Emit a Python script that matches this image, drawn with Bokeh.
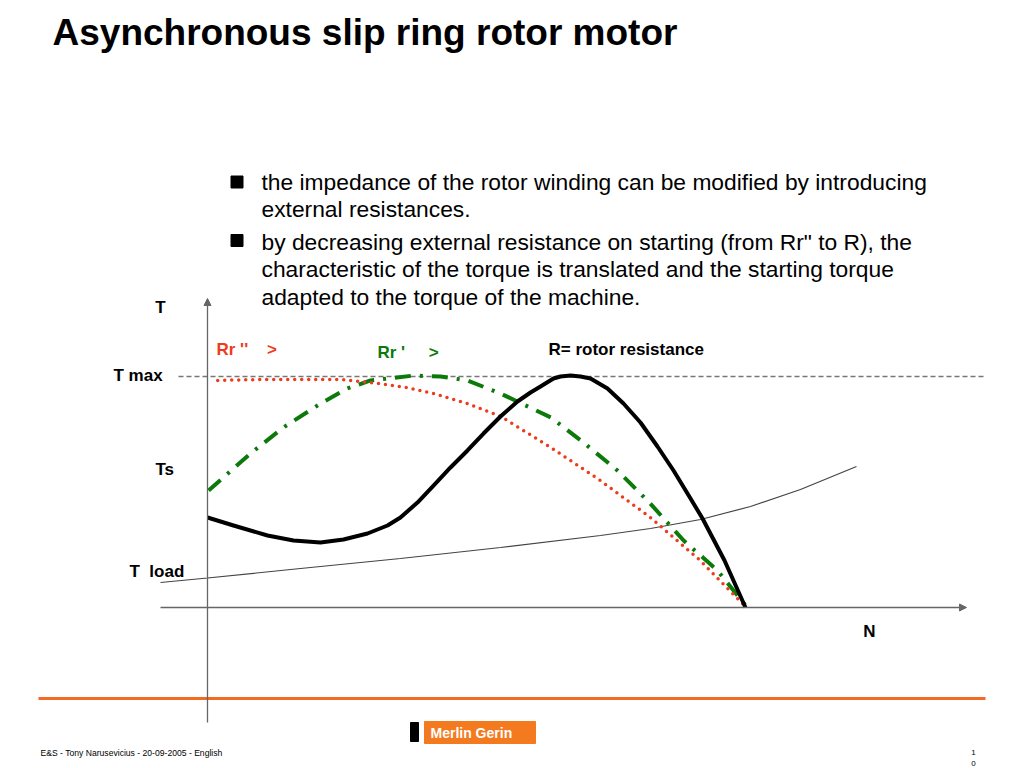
from bokeh.plotting import figure
from bokeh.models import Label, Arrow, NormalHead, Range1d
from bokeh.embed import file_html
from bokeh.resources import INLINE

# ---------------- data (N = speed in % of synchronous, T = torque in % of Tmax) ----------------
T_MAX = 100

# R = rotor resistance (solid black)
N_R = [0, 4.83, 11.15, 15.99, 21.0, 25.28, 29.74, 33.46, 35.87, 39.03, 42.01, 45.17,
       48.33, 51.3, 54.46, 57.62, 60.04, 61.9, 64.31, 65.61, 67.47, 69.33, 71.19,
       74.35, 77.32, 80.48, 83.64, 86.62, 89.78, 92.01, 96.1, 100]
T_R = [38.96, 35.5, 31.17, 29.0, 28.14, 29.44, 32.03, 35.5, 38.96, 45.45, 52.81, 60.61,
       67.97, 75.32, 82.68, 89.18, 93.07, 95.67, 99.13, 100.0, 100.43, 100.0, 99.13,
       94.81, 88.31, 80.09, 69.7, 59.31, 47.19, 38.53, 20.35, 0]

# Rr'' (red dotted)
N_RR2 = [1.9, 9.8, 17.3, 24.7, 31.6, 37.0, 42.0, 48.3, 54.5, 63.8, 73.0, 82.3, 91.6, 100]
T_RR2 = [98.3, 98.7, 98.7, 98.7, 97.0, 95.2, 92.6, 88.3, 82.7, 69.3, 55.0, 39.0, 20.3, 0.4]

# Rr' (green dash-dot)
N_RR1 = [0.2, 8.0, 14.1, 21.0, 26.0, 30.3, 38.3, 43.3, 48.3, 54.5, 63.8, 69.9, 76.2, 82.3, 88.5, 94.8, 100]
T_RR1 = [50.6, 66.7, 77.9, 88.3, 94.8, 98.3, 100.4, 100.0, 98.3, 92.6, 82.3, 71.4, 59.3, 45.0, 29.0, 16.0, 0.9]

# T load (thin grey)
N_L = [-8.74, 0, 17.29, 35.87, 54.46, 73.05, 82.34, 91.64, 100.93, 110.22, 120.63]
T_L = [10.82, 12.77, 16.88, 21.21, 25.97, 31.17, 34.2, 38.1, 43.72, 51.08, 61.04]

TITLE = "Asynchronous slip ring rotor motor"
BULLETS = [
    ["the impedance of the rotor winding can be modified by introducing",
     "external resistances."],
    ["by decreasing external resistance on starting (from Rr\" to R), the",
     "characteristic of the torque is translated and the starting torque",
     "adapted to the torque of the machine."],
]
FOOTER = "E&S - Tony Narusevicius - 20-09-2005 - English"
NB = "\u00a0"

# ---------------- layout helpers (reference pixel -> data) ----------------
X0, Y0 = 207, 607
SX, SY = 5.38, 2.31
def nx(X):
    return (X - X0) / SX
def ty(Y):
    return (Y0 - Y) / SY

W, H = 1024, 768
p = figure(width=W, height=H,
           x_range=Range1d(nx(0), nx(W)), y_range=Range1d(ty(H), ty(0)),
           output_backend="svg", toolbar_location=None,
           x_axis_type=None, y_axis_type=None, min_border=0)
p.outline_line_color = None
p.background_fill_color = "white"

def lab(text, X, Y, size, color="black", bold=True, font="Liberation Sans", align="left"):
    p.add_layout(Label(x=nx(X), y=ty(Y), text=text, text_font=font,
                       text_font_size=f"{size}px",
                       text_font_style="bold" if bold else "normal",
                       text_color=color, text_align=align, text_baseline="middle"))

# title
lab(TITLE, 52, 32, 37)

# bullets
p.scatter(x=[nx(236.5), nx(236.5)], y=[ty(181.5), ty(240)], marker="square", size=12,
          color="black")
ys = [[181, 208], [241, 268, 296]]
for lines, yy in zip(BULLETS, ys):
    for t, y in zip(lines, yy):
        lab(t, 261, y, 22.8, bold=False)

# axes
grey = "#666666"
p.add_layout(Arrow(end=NormalHead(size=7, fill_color=grey, line_color=grey),
                   x_start=0, y_start=ty(722), x_end=0, y_end=ty(298),
                   line_color=grey, line_width=1.3))
p.add_layout(Arrow(end=NormalHead(size=7, fill_color=grey, line_color=grey),
                   x_start=nx(160), y_start=0, x_end=nx(966), y_end=0,
                   line_color=grey, line_width=1.3))

# T max dashed line
p.segment(x0=[nx(178)], y0=[T_MAX], x1=[nx(983)], y1=[T_MAX],
          line_color="#777777", line_width=1.3, line_dash="5 3")

# curves
p.line(N_L, T_L, line_color="#444444", line_width=1.2)
p.line(N_RR1, T_RR1, line_color="#0b7a0b", line_width=4, line_dash="16 9 3 9")
p.line(N_RR2, T_RR2, line_color="#ee3b1d", line_width=3.5, line_dash="0 7",
       line_cap="round")
p.line(N_R, T_R, line_color="black", line_width=4, line_join="round")

# chart labels
lab("T", 160, 307, 17, align="center")
lab("T max", 113, 375, 17)
lab("Ts", 155, 469, 17)
lab("T" + NB + NB + "load", 129, 571, 17)
lab("N", 869, 631, 17, align="center")
lab("Rr ''" + NB * 4 + ">", 216, 349, 17, color="#ee3b1d")
lab("Rr '" + NB * 5 + ">", 377, 352, 17, color="#0b7a0b")
lab("R= rotor resistance", 548, 349, 17)

# footer
p.segment(x0=[nx(38)], y0=[ty(698)], x1=[nx(985)], y1=[ty(698)],
          line_color="#f26b21", line_width=3)
p.quad(left=[nx(424)], right=[nx(535)], top=[ty(721)], bottom=[ty(743)],
       color="#f47a20")
p.quad(left=[nx(410)], right=[nx(418)], top=[ty(722)], bottom=[ty(741)],
       color="black")
lab("Merlin Gerin", 430, 732, 14, color="white")
lab(FOOTER, 40, 752, 8.6, bold=False)
lab("1", 973, 752, 8, bold=False, align="center")
lab("0", 973, 763, 8, bold=False, align="center")

open("out.html", "w").write(file_html(p, INLINE))
